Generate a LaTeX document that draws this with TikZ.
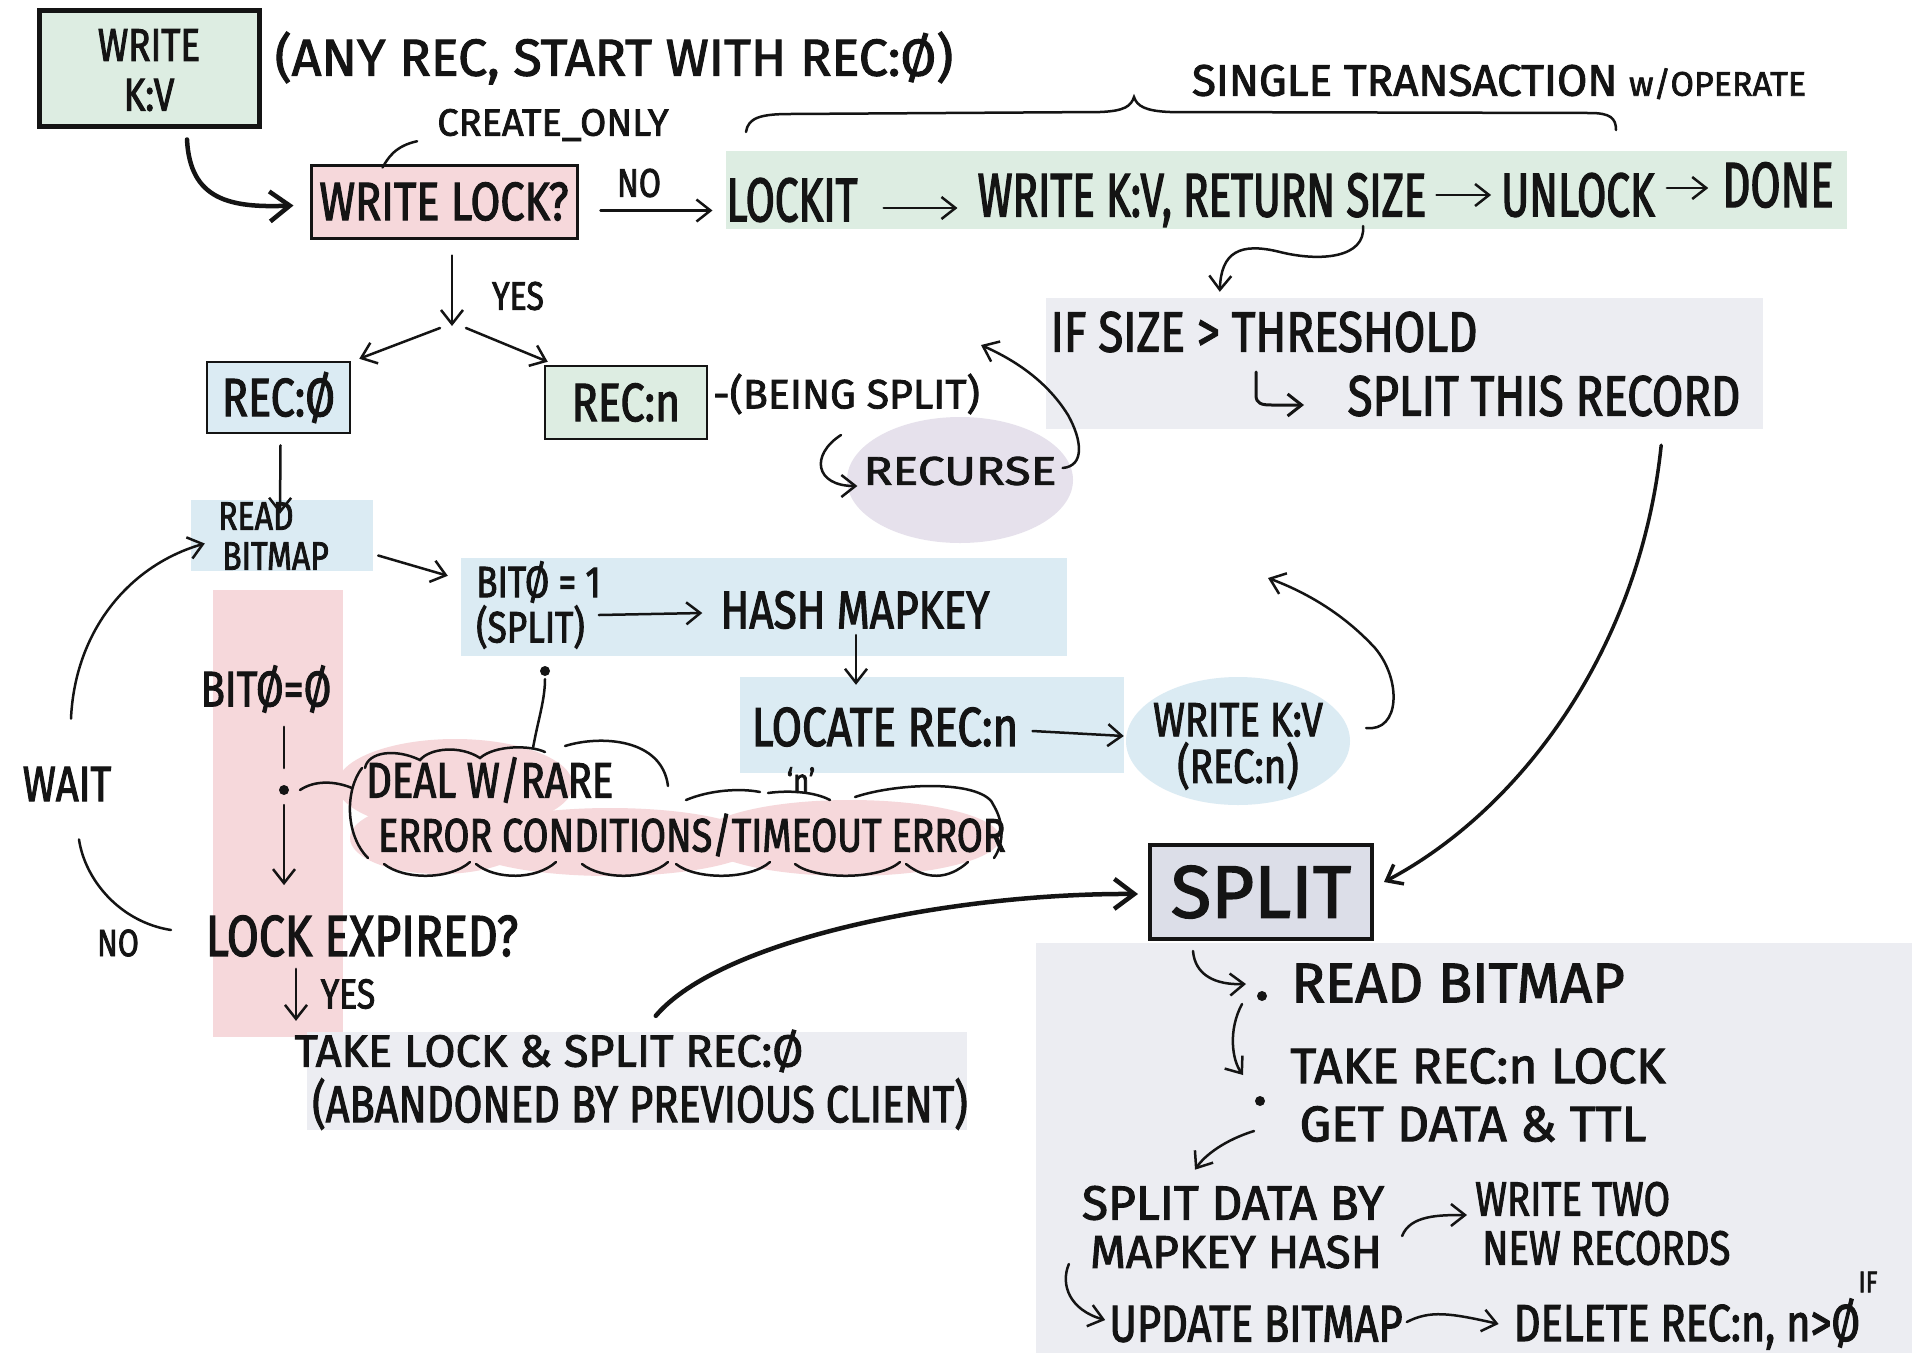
\documentclass[tikz,border=0pt]{standalone}
\usepackage{fontspec}
\newfontfamily\hand[FakeStretch=0.8,FakeBold=2]{Fira Sans}
\newfontfamily\handn[FakeStretch=0.68,FakeBold=2]{Fira Sans}
\newfontfamily\handw[FakeStretch=1.0,FakeBold=2]{Fira Sans}
\newfontfamily\handww[FakeStretch=1.2,FakeBold=2]{Fira Sans}
\usetikzlibrary{arrows.meta,shapes.geometric,calc}
\newcommand\hf[2]{\hand\fontsize{#1}{#2}\selectfont}
\newcommand\hn[1]{\handn\fontsize{#1}{#1}\selectfont}
\newcommand\hw[1]{\handw\fontsize{#1}{#1}\selectfont}
\definecolor{mint}{RGB}{221,237,226}
\definecolor{rose}{RGB}{246,216,219}
\definecolor{sky}{RGB}{219,235,243}
\definecolor{fog}{RGB}{236,237,242}
\definecolor{lilac}{RGB}{230,225,236}
\definecolor{slate}{RGB}{220,222,232}
\definecolor{ink}{RGB}{20,20,20}

\begin{document}
\begin{tikzpicture}[x=1pt,y=-1pt,
  t/.style={inner sep=0pt,text=ink,font=\hf{#1}{#1}},
  tn/.style={inner sep=0pt,text=ink,font=\hn{#1}},
  tw/.style={inner sep=0pt,text=ink,font=\hw{#1}},
  box/.style={rectangle,inner sep=0pt,draw=ink,line width=2.5pt,text=ink},
  band/.style={rectangle,inner sep=0pt,draw=none},
  pen/.style={draw=ink,line width=2.5pt,line cap=round},
  arr/.style={pen,-{Straight Barb[length=14pt,width=22pt]}},
  fatarr/.style={draw=ink,line width=4.5pt,line cap=round,-{Straight Barb[length=20pt,width=30pt]}},
]
\fill[white] (0,0) rectangle (1912,1353);
\useasboundingbox (0,0) rectangle (1912,1353);

% ---------- coloured backgrounds ----------
\node[band,fill=mint,minimum width=1121,minimum height=78] (txn) at (1286.5,190) {};
\node[band,fill=fog,minimum width=717,minimum height=131] (ifbox) at (1404.5,363.5) {};
\node[ellipse,fill=lilac,minimum width=226,minimum height=126,inner sep=0pt] (recurse) at (960,480) {};
\node[band,fill=sky,minimum width=182,minimum height=71] (readbm) at (282,535.5) {};
\node[band,fill=sky,minimum width=606,minimum height=98] (bitbox) at (764,607) {};
\node[band,fill=sky,minimum width=384,minimum height=96] (locbox) at (932,725) {};
\node[band,fill=rose,minimum width=130,minimum height=447] (pband) at (278,813.5) {};
\node[band,fill=fog,minimum width=660,minimum height=98] (takebox) at (637,1081) {};
\node[band,fill=fog,minimum width=876,minimum height=410] (splitarea) at (1474,1148) {};

% error cloud fill
\fill[rose] (455,785) ellipse [x radius=118,y radius=46];
\fill[rose] (440,838) ellipse [x radius=90,y radius=36];
\fill[rose] (610,842) ellipse [x radius=150,y radius=34];
\fill[rose] (850,838) ellipse [x radius=150,y radius=38];

% ---------- top row ----------
\node[box,fill=mint,line width=5pt,minimum width=220,minimum height=116] (wkv) at (149,68) {};
\node[t=46] (wkv1) at (149,45) {WRITE};
\node[t=46] (wkv2) at (149,95) {K:V};
\node[tw=52] (anyrec) at (614,58) {(ANY REC, START WITH REC:Ø)};
\node[tw=38] (create) at (553,125) {CREATE\_ONLY};
\node[box,fill=rose,line width=3pt,minimum width=266,minimum height=73,font=\hf{54}{54}] (wlock) at (444,201.5) {WRITE LOCK?};
\draw[pen] ($(create.south west)+(-20,0)$) .. controls (395,146) and (388,158) .. ($(wlock.north west)+(73,4)$);
\draw[fatarr] ($(wkv.south)+(38,11)$) .. controls (190,200) and (230,208) .. ($(wlock.west)+(-16,4)$);

\node[t=40] (no1) at (639,183) {NO};
\draw[arr] ($(wlock.east)+(22,9)$) -- ($(wlock.east)+(134,9)$) coordinate (lockin);

\node[tn=62] (lockit) at (792,200) {LOCKIT};
\node[tn=62] (wret) at (1202,200) {WRITE K:V, RETURN SIZE};
\node[tn=62] (unlock) at (1578,195) {UNLOCK};
\node[tn=64] (done) at (1778,185) {DONE};
\draw[arr] ($(lockit.east)+(26,8)$) -- ($(wret.west)+(-20,8)$);
\draw[arr] ($(wret.east)+(10,-5)$) -- ($(unlock.west)+(-10,0)$);
\draw[arr] ($(unlock.east)+(12,-7)$) -- ($(done.west)+(-14,3)$);

% brace over the transaction
\draw[pen] (746,132) .. controls (748,118) and (760,114) .. (790,114) -- (1100,112)
  .. controls (1125,111) and (1131,106) .. (1134,97)
  .. controls (1137,106) and (1145,111) .. (1170,112) -- (1590,113)
  .. controls (1610,113) and (1616,118) .. (1616,130);
\node[inner sep=0pt,text=ink,font=\handw] (single) at (1499,82)
  {\fontsize{44}{44}\selectfont SINGLE TRANSACTION \fontsize{34}{34}\selectfont w/OPERATE};

% size check
\coordinate (sizept) at (1363,226);
\draw[arr] (sizept) .. controls (1366,258) and (1320,262) .. (1280,252)
  .. controls (1240,242) and (1221,252) .. ($(ifbox.north west)+(174,-6)$);
\node[t=57] (ifsize) at (1264,332) {IF SIZE > THRESHOLD};
\node[t=57] (splitrec) at (1544,396) {SPLIT THIS RECORD};
\draw[arr,line width=3pt] (1256,372) -- (1256,395) .. controls (1256,404) and (1262,405) .. (1272,405) -- (1304,405);

% ---------- YES branch ----------
\coordinate (fork) at (452,326);
\node[t=40] (yes1) at (518,296) {YES};
\draw[arr] ($(wlock.south)+(8,16)$) -- (fork);
\node[box,fill=sky,minimum width=143,minimum height=71,font=\hf{54}{54}] (rec0) at (278.5,397.5) {REC:Ø};
\node[box,fill=mint,minimum width=162,minimum height=73,font=\hf{54}{54}] (recn) at (626,402.5) {REC:n};
\draw[arr] ($(fork)+(-12,2)$) -- ($(rec0.north east)+(8,-2)$);
\draw[arr] ($(fork)+(14,2)$) -- ($(recn.north west)+(4,-3)$);

\node[tw=41,anchor=west] (being) at (713,394) {-(BEING SPLIT)};
\node[inner sep=0pt,text=ink,font=\handww\fontsize{40}{40}\selectfont] (recursetx) at (960,471) {RECURSE};
\draw[arr] (841,435) .. controls (810,455) and (815,486) .. ($(recursetx.west)+(-6,15)$);
\coordinate (recup) at (981,345);
\draw[arr] ($(recursetx.east)+(6,-3)$) .. controls (1085,466) and (1082,440) .. (1068,415)
  .. controls (1045,378) and (1010,358) .. (recup);

% ---------- REC:0 path ----------
\node[t=40,anchor=west] (read1) at (218,516) {READ};
\node[t=40,anchor=west] (read2) at (222,556) {BITMAP};
\draw[arr] ($(rec0.south)+(2,11)$) -- ($(readbm.north)+(-2,14)$);
\draw[arr] ($(readbm.east)+(5,20)$) -- ($(bitbox.north west)+(-13,18)$);

\node[t=50] (bit0) at (266,689) {BITØ=Ø};
\coordinate (errdot) at (284,790);
\draw[pen] ($(bit0.south -| errdot)+(0,14)$) -- ($(errdot)+(0,-22)$);
\fill[ink] (errdot) circle (5);
\node[t=58] (lockexp) at (362,936) {LOCK EXPIRED?};
\draw[arr] ($(errdot)+(0,15)$) -- ($(lockexp.north -| errdot)+(0,-30)$);
\draw[pen] ($(errdot)+(16,0)$) .. controls (315,780) and (335,781) .. (352,788);

\draw[arr] ($(lockexp.south -| errdot)+(12,12)$) -- ++(0,52);
\node[t=42] (yes2) at (348,994) {YES};

\node[t=50] (wait) at (67,784) {WAIT};
\node[t=38] (no2) at (118,943) {NO};
\draw[pen] (171,930) .. controls (120,922) and (85,880) .. ($(wait.south)+(12,38)$);
\draw[arr] ($(wait.north)+(4,-48)$) .. controls (75,630) and (130,565) .. ($(readbm.west)+(14,8)$);

\node[tw=45] (take1) at (549,1051) {TAKE LOCK \& SPLIT REC:Ø};
\node[t=52] (take2) at (640,1104) {(ABANDONED BY PREVIOUS CLIENT)};

% ---------- split (bit set) path ----------
\node[t=44,anchor=west] (bit1a) at (476,582) {BITØ = 1};
\node[t=44,anchor=west] (bit1b) at (476,627) {(SPLIT)};
\node[t=53] (hash) at (855,610) {HASH MAPKEY};
\draw[arr] ($(bit1b.east)+(14,-12)$) -- ($(hash.west)+(-18,3)$);
\coordinate (bitdot) at (545,671);
\fill[ink] (bitdot) circle (5);

\node[t=55] (locate) at (885,727) {LOCATE REC:n};
\node[t=34] (nq) at (801,780) {‘n’};
\draw[arr] ($(hash.south)+(1,6)$) -- ($(locbox.north -| hash.south)+(1,8)$);
\node[ellipse,fill=sky,minimum width=224,minimum height=128,inner sep=0pt] (wkvn) at (1238,741) {};
\node[t=48] (wkvn1) at (1238,720) {WRITE K:V};
\node[t=48] (wkvn2) at (1238,766) {(REC:n)};
\draw[arr] ($(locate.east)+(14,4)$) -- ($(wkvn.west)+(-2,-5)$);
\coordinate (wkvup) at (1268,578);
\draw[arr] ($(wkvn.east)+(16,-13)$) .. controls (1400,732) and (1402,680) .. (1375,648)
  .. controls (1340,610) and (1300,590) .. (wkvup);

% ---------- error cloud ----------
\node[t=50,anchor=west] (deal1) at (366,780) {DEAL W/RARE};
\node[t=47,anchor=west] (deal2) at (378,835) {ERROR CONDITIONS/TIMEOUT ERROR};
\draw[pen] (533,748) .. controls (538,720) and (545,700) .. ($(bitdot)+(0,8)$);
\draw[pen] (362,768) .. controls (345,790) and (345,835) .. (368,858);
\draw[pen] (365,768) .. controls (368,752) and (395,748) .. (420,760)
  .. controls (430,748) and (460,745) .. (480,758)
  .. controls (495,745) and (530,745) .. (545,752);
\draw[pen] (565,746) .. controls (600,735) and (662,738) .. (668,786);
\draw[pen] (686,800) .. controls (710,790) and (740,788) .. (760,792);
\draw[pen] (768,793) .. controls (790,790) and (815,792) .. (830,800);
\draw[pen] (855,797) .. controls (900,782) and (985,780) .. (994,806)
  .. controls (1005,825) and (1003,845) .. (994,858);
\foreach \a/\b in {384/470,476/556,582/668,676/770,795/900,906/968}
  \draw[pen] (\a,864) .. controls (\a+20,880) and (\b-20,880) .. (\b,862);

% ---------- SPLIT ----------
\node[box,fill=slate,line width=4pt,minimum width=222,minimum height=94,font=\hw{74}] (split) at (1261,892) {SPLIT};
\draw[fatarr] ($(takebox.north west)+(349,-16)$) .. controls (720,940) and (950,893) .. ($(split.west)+(-10,2)$);
\draw[arr,line width=3.5pt] ($(ifbox.south east)+(-102,16)$) .. controls (1640,650) and (1520,810) .. ($(split.east)+(10,-10)$);

\node[tw=56] (rb2) at (1458,983) {READ BITMAP};
\coordinate (dot1) at (1262,996);
\fill[ink] (dot1) circle (5);
\node[tw=50] (takern) at (1478,1066) {TAKE REC:n LOCK};
\coordinate (dot2) at (1260,1101);
\fill[ink] (dot2) circle (5);
\node[tw=50] (getdata) at (1473,1124) {GET DATA \& TTL};
\node[tw=48] (sdb1) at (1233,1203) {SPLIT DATA BY};
\node[tw=46] (sdb2) at (1236,1252) {MAPKEY HASH};
\node[t=48,anchor=west] (wtwo1) at (1475,1199) {WRITE TWO};
\node[t=48,anchor=west] (wtwo2) at (1482,1248) {NEW RECORDS};
\node[t=52] (upd) at (1256,1324) {UPDATE BITMAP};
\node[t=52] (del) at (1687,1324) {DELETE REC:n, n>Ø};
\node[t=30] (iftx) at (1868,1282) {IF};

\draw[arr] ($(split.south)+(-68,10)$) .. controls (1195,975) and (1215,985) .. ($(dot1)+(-16,-12)$);
\draw[arr] ($(dot1)+(-20,8)$) .. controls (1228,1030) and (1232,1060) .. ($(dot2)+(-17,-26)$);
\draw[arr] ($(dot2)+(-6,30)$) .. controls (1225,1140) and (1205,1155) .. ($(sdb1.north)+(-38,-16)$);
\draw[arr] ($(sdb2.east)+(20,-16)$) .. controls (1410,1215) and (1440,1215) .. ($(wtwo1.west)+(-8,16)$);
\draw[arr] ($(sdb2.west)+(-21,12)$) .. controls (1060,1285) and (1070,1310) .. ($(upd.west)+(-4,-4)$);
\draw[arr] ($(upd.east)+(4,-2)$) .. controls (1430,1310) and (1450,1313) .. ($(del.west)+(-15,0)$);
\end{tikzpicture}
\end{document}
